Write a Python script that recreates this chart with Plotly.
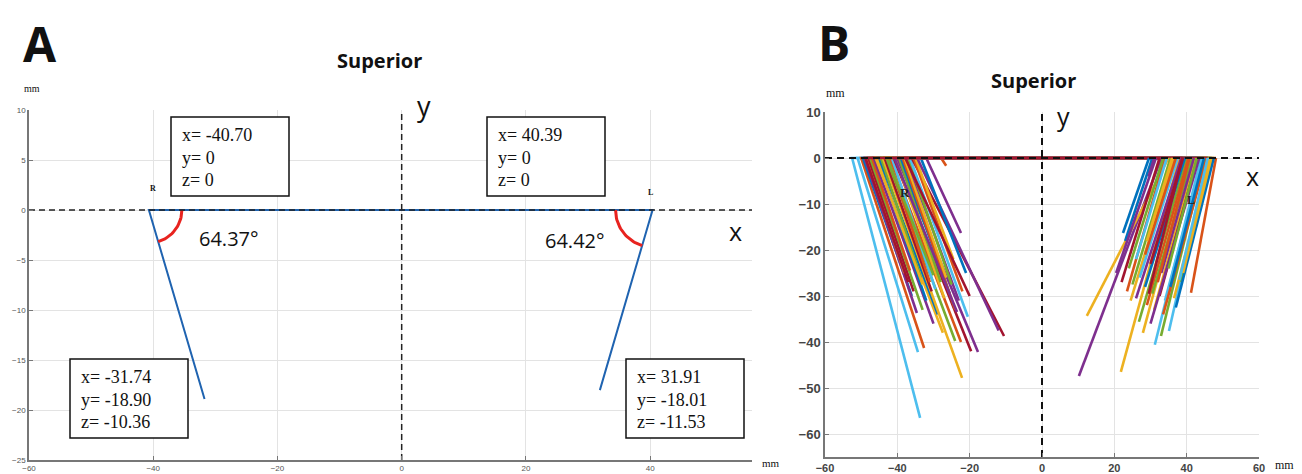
import numpy as np
import plotly.graph_objects as go

W, H = 1302, 474
OFF = 8  # page body margin

# ---------------- Panel A data ----------------
a_R_start = [-40.70, 0.0, 0.0]
a_R_end = [-31.74, -18.90, -10.36]
a_L_start = [40.39, 0.0, 0.0]
a_L_end = [31.91, -18.01, -11.53]
a_angle_labels = ["64.37°", "64.42°"]

# ---------------- Panel B data (per subject: R start x, R end, L start x, L end) ----------------
b_r_start_x = [-52.5, -51.0, -50.0, -49.5, -49.0, -48.5, -48.0, -47.5, -47.0, -46.5,
               -46.0, -45.5, -45.0, -44.5, -44.0, -43.5, -43.0, -42.5, -42.0, -41.5,
               -41.0, -40.5, -40.0, -39.5, -39.0, -38.5, -38.0, -37.5, -37.0, -36.5,
               -36.0, -35.5, -35.0, -34.5, -32.0, -27.9, -33.5, -42.8, -45.8, -37.8,
               -40.8, -48.8]
b_r_end_x = [-33.7, -34.3, -32.6, -36.0, -34.6, -38.0, -35.5, -33.0, -36.5, -30.0,
             -27.4, -32.0, -28.8, -33.5, -22.1, -30.5, -24.0, -31.0, -22.4, -29.5,
             -19.6, -27.0, -17.7, -28.0, -25.5, -24.0, -26.5, -23.0, -25.0, -20.5,
             -10.5, -22.0, -24.5, -12.0, -22.4, -26.5, -21.0, -30.0, -33.0, -20.0,
             -23.5, -37.0]
b_r_end_y = [-56.5, -42.2, -41.3, -30.0, -33.7, -25.0, -29.0, -33.0, -24.5, -36.0,
             -38.0, -31.0, -34.0, -26.0, -47.8, -29.0, -39.8, -27.0, -40.0, -28.5,
             -42.0, -30.5, -42.2, -27.0, -29.5, -33.0, -26.0, -31.0, -27.5, -34.5,
             -38.7, -29.0, -22.0, -37.5, -16.3, -1.7, -25.0, -25.5, -27.5, -30.0,
             -33.5, -27.0]
b_l_start_x = [33.0, 35.0, 38.0, 44.0, 46.0, 45.0, 41.0, 40.0, 48.1, 29.6,
               30.5, 31.5, 32.5, 34.0, 35.5, 36.5, 37.5, 38.5, 39.5, 40.5,
               41.5, 42.5, 43.0, 43.5, 44.5, 45.5, 46.5, 47.0, 47.5, 42.0,
               39.0, 37.0, 36.0, 34.5, 33.5, 31.0, 44.8, 46.8, 40.8, 38.8,
               42.8, 45.8]
b_l_end_x = [10.2, 12.4, 21.8, 31.2, 35.1, 32.9, 27.9, 26.8, 41.2, 22.4,
             23.0, 20.5, 22.0, 23.5, 25.0, 24.5, 27.0, 26.0, 28.5, 29.0,
             30.5, 31.0, 32.5, 30.0, 34.0, 33.5, 36.5, 38.5, 37.0, 33.0,
             30.0, 28.5, 29.0, 26.0, 24.0, 29.5, 35.5, 39.0, 32.0, 29.5,
             35.0, 38.0]
b_l_end_y = [-47.4, -34.3, -46.5, -40.6, -37.6, -38.7, -38.0, -35.6, -29.3, -16.3,
             -18.0, -25.0, -27.0, -29.0, -27.5, -31.0, -26.0, -30.5, -28.0, -32.0,
             -29.5, -33.0, -30.0, -36.0, -31.0, -34.0, -30.5, -27.0, -32.5, -25.0,
             -23.0, -21.0, -18.0, -22.0, -24.0, -4.0, -28.0, -25.0, -27.0, -29.5,
             -24.0, -26.5]

matlab_colors = ["#0072BD", "#D95319", "#EDB120", "#7E2F8E", "#77AC30", "#4DBEEE", "#A2142F"]
b_color_idx = [5, 5, 1, 0, 3, 2, 6, 4, 1, 3,
               2, 0, 0, 4, 2, 6, 4, 1, 1, 5,
               6, 2, 3, 4, 0, 1, 2, 3, 4, 5,
               6, 1, 2, 3, 3, 1, 0, 4, 2, 6,
               3, 6]
b_l_color_idx = [3, 2, 2, 5, 5, 4, 2, 4, 1, 0,
                 0, 3, 6, 1, 4, 2, 5, 3, 0, 1,
                 4, 2, 6, 3, 5, 1, 2, 4, 0, 3,
                 6, 1, 2, 5, 4, 3, 0, 2, 1, 6,
                 4, 5]

# ---------------- geometry helpers (layout only) ----------------
FW, FH = W - OFF, H - OFF

def px(x):
    return (x - OFF) / FW

def py(y):
    return 1 - (y - OFF) / FH

A_X = (29, 752); A_Y = (110, 460)
B_X = (825, 1259); B_Y = (112, 457)
A_XR = [-60, 56.4]; A_YR = [-25, 10]
B_XR = [-60, 60]; B_YR = [-65, 10]
kxA = (A_X[1] - A_X[0]) / (A_XR[1] - A_XR[0])
kyA = (A_Y[1] - A_Y[0]) / (A_YR[1] - A_YR[0])

fig = go.Figure()

# ---- Panel A lines ----
fig.add_trace(go.Scatter(x=[a_R_end[0], a_R_start[0], a_L_start[0], a_L_end[0]],
                         y=[a_R_end[1], a_R_start[1], a_L_start[1], a_L_end[1]],
                         mode="lines", line=dict(color="#1f63b0", width=2),
                         xaxis="x", yaxis="y", hoverinfo="skip"))


def arc(start, end, r_px, side):
    cx, cy = start[0], start[1]
    ang_line = np.arctan2((cy - end[1]) * kyA, (end[0] - cx) * kxA)  # pixel angle, y down
    if side == "R":
        t = np.linspace(0, ang_line, 30)
    else:
        t = np.linspace(ang_line, np.pi, 30)
    xs = cx + r_px * np.cos(t) / kxA
    ys = cy - r_px * np.sin(t) / kyA
    return xs, ys

for start, end, r, side in [(a_R_start, a_R_end, 33, "R"), (a_L_start, a_L_end, 37, "L")]:
    xs, ys = arc(start, end, r, side)
    fig.add_trace(go.Scatter(x=xs, y=ys, mode="lines", line=dict(color="#e8231f", width=3),
                             xaxis="x", yaxis="y", hoverinfo="skip"))

# dashed axes A
fig.add_trace(go.Scatter(x=[A_XR[0], A_XR[1]], y=[0, 0], mode="lines",
                         line=dict(color="#222", width=1.5, dash="6px,4px"),
                         xaxis="x", yaxis="y", hoverinfo="skip"))
fig.add_trace(go.Scatter(x=[0, 0], y=[A_YR[0], A_YR[1]], mode="lines",
                         line=dict(color="#222", width=1.5, dash="6px,4px"),
                         xaxis="x", yaxis="y", hoverinfo="skip"))

# ---- Panel B lines ----
for i in range(len(b_r_start_x)):
    xs = [b_r_end_x[i], b_r_start_x[i], b_l_start_x[i]]
    ys = [b_r_end_y[i], 0, 0]
    fig.add_trace(go.Scatter(x=xs, y=ys, mode="lines",
                             line=dict(color=matlab_colors[b_color_idx[i]], width=2.6),
                             xaxis="x2", yaxis="y2", hoverinfo="skip"))
for i in range(len(b_l_start_x)):
    xs = [b_l_start_x[i], b_l_end_x[i]]
    ys = [0, b_l_end_y[i]]
    fig.add_trace(go.Scatter(x=xs, y=ys, mode="lines",
                             line=dict(color=matlab_colors[b_l_color_idx[i]], width=2.6),
                             xaxis="x2", yaxis="y2", hoverinfo="skip"))

fig.add_trace(go.Scatter(x=[B_XR[0], B_XR[1]], y=[0, 0], mode="lines",
                         line=dict(color="#111", width=2, dash="7px,5px"),
                         xaxis="x2", yaxis="y2", hoverinfo="skip"))
fig.add_trace(go.Scatter(x=[0, 0], y=[B_YR[0], B_YR[1]], mode="lines",
                         line=dict(color="#111", width=2, dash="7px,5px"),
                         xaxis="x2", yaxis="y2", hoverinfo="skip"))

axis_common = dict(showgrid=True, gridcolor="#e3e3e3", gridwidth=1, zeroline=False,
                   showline=True, linecolor="#777", linewidth=1.5, ticks="inside",
                   ticklen=4, tickcolor="#777", automargin=False)

fig.update_layout(
    width=FW, height=FH, margin=dict(l=0, r=0, t=0, b=0, autoexpand=False),
    paper_bgcolor="white", plot_bgcolor="white", showlegend=False,
    xaxis=dict(domain=[px(A_X[0]), px(A_X[1])], range=A_XR, dtick=20, anchor="y",
               tickfont=dict(family="Liberation Sans", size=8, color="#555"), **axis_common),
    yaxis=dict(domain=[py(A_Y[1]), py(A_Y[0])], range=A_YR, dtick=5, anchor="x",
               tickfont=dict(family="Liberation Sans", size=8, color="#555"), **axis_common),
    xaxis2=dict(domain=[px(B_X[0]), px(B_X[1])], range=B_XR, dtick=20, anchor="y2",
                tickfont=dict(family="Liberation Sans", size=11, color="#444", weight="bold"),
                **axis_common),
    yaxis2=dict(domain=[py(B_Y[1]), py(B_Y[0])], range=B_YR, dtick=10, anchor="x2",
                tickfont=dict(family="Liberation Sans", size=13, color="#444", weight="bold"),
                **axis_common),
)

ann = []
shapes = []

def text(x, y, s, size, family="Open Sans", weight="normal", color="#111", xa="center", ya="middle"):
    ann.append(dict(x=px(x), y=py(y), xref="paper", yref="paper", text=s, showarrow=False,
                    xanchor=xa, yanchor=ya,
                    font=dict(family=family, size=size, color=color, weight=weight)))

text(40, 9, "A", 48, weight="bold", ya="top")
text(834, 8, "B", 48, weight="bold", ya="top")
text(379, 60, "Superior", 20, weight="bold")
text(1033, 80, "Superior", 20, weight="bold")
text(424, 105, "y", 27)
text(736, 231, "x", 25)
text(1063, 116, "y", 25)
text(1252, 176, "x", 25)
text(229, 238, a_angle_labels[0], 20)
text(575, 240, a_angle_labels[1], 20)
text(32, 88, "mm", 10, family="Liberation Serif")
text(771, 463, "mm", 11, family="Liberation Serif")
text(835, 93, "mm", 12, family="Liberation Serif")
text(1284, 465, "mm", 12, family="Liberation Serif")
text(153, 188, "R", 8, family="Liberation Serif", weight="bold")
text(650, 193, "L", 8, family="Liberation Serif", weight="bold")
text(905, 193, "R", 13, family="Liberation Serif", weight="bold", color="#222")
text(1191, 200, "L", 12, family="Liberation Serif", weight="bold", color="#222")

def fmt(v):
    return "0" if v == 0 else f"{v:.2f}"

def box(x0, y0, pt):
    x1, y1 = x0 + 118, y0 + 79
    shapes.append(dict(type="rect", xref="paper", yref="paper", x0=px(x0), x1=px(x1),
                       y0=py(y1), y1=py(y0), line=dict(color="#111", width=1.5),
                       fillcolor="white", layer="above"))
    for k, (lab, v) in enumerate(zip(["x", "y", "z"], pt)):
        text(x0 + 9, y0 + 18 + 22.5 * k, f"{lab}= {fmt(v)}", 18,
             family="Liberation Serif", xa="left")

box(171, 117, a_R_start)
box(487, 117, a_L_start)
box(70, 359, a_R_end)
box(626, 359, a_L_end)

fig.update_layout(annotations=ann, shapes=shapes)
fig.write_html("out.html")
